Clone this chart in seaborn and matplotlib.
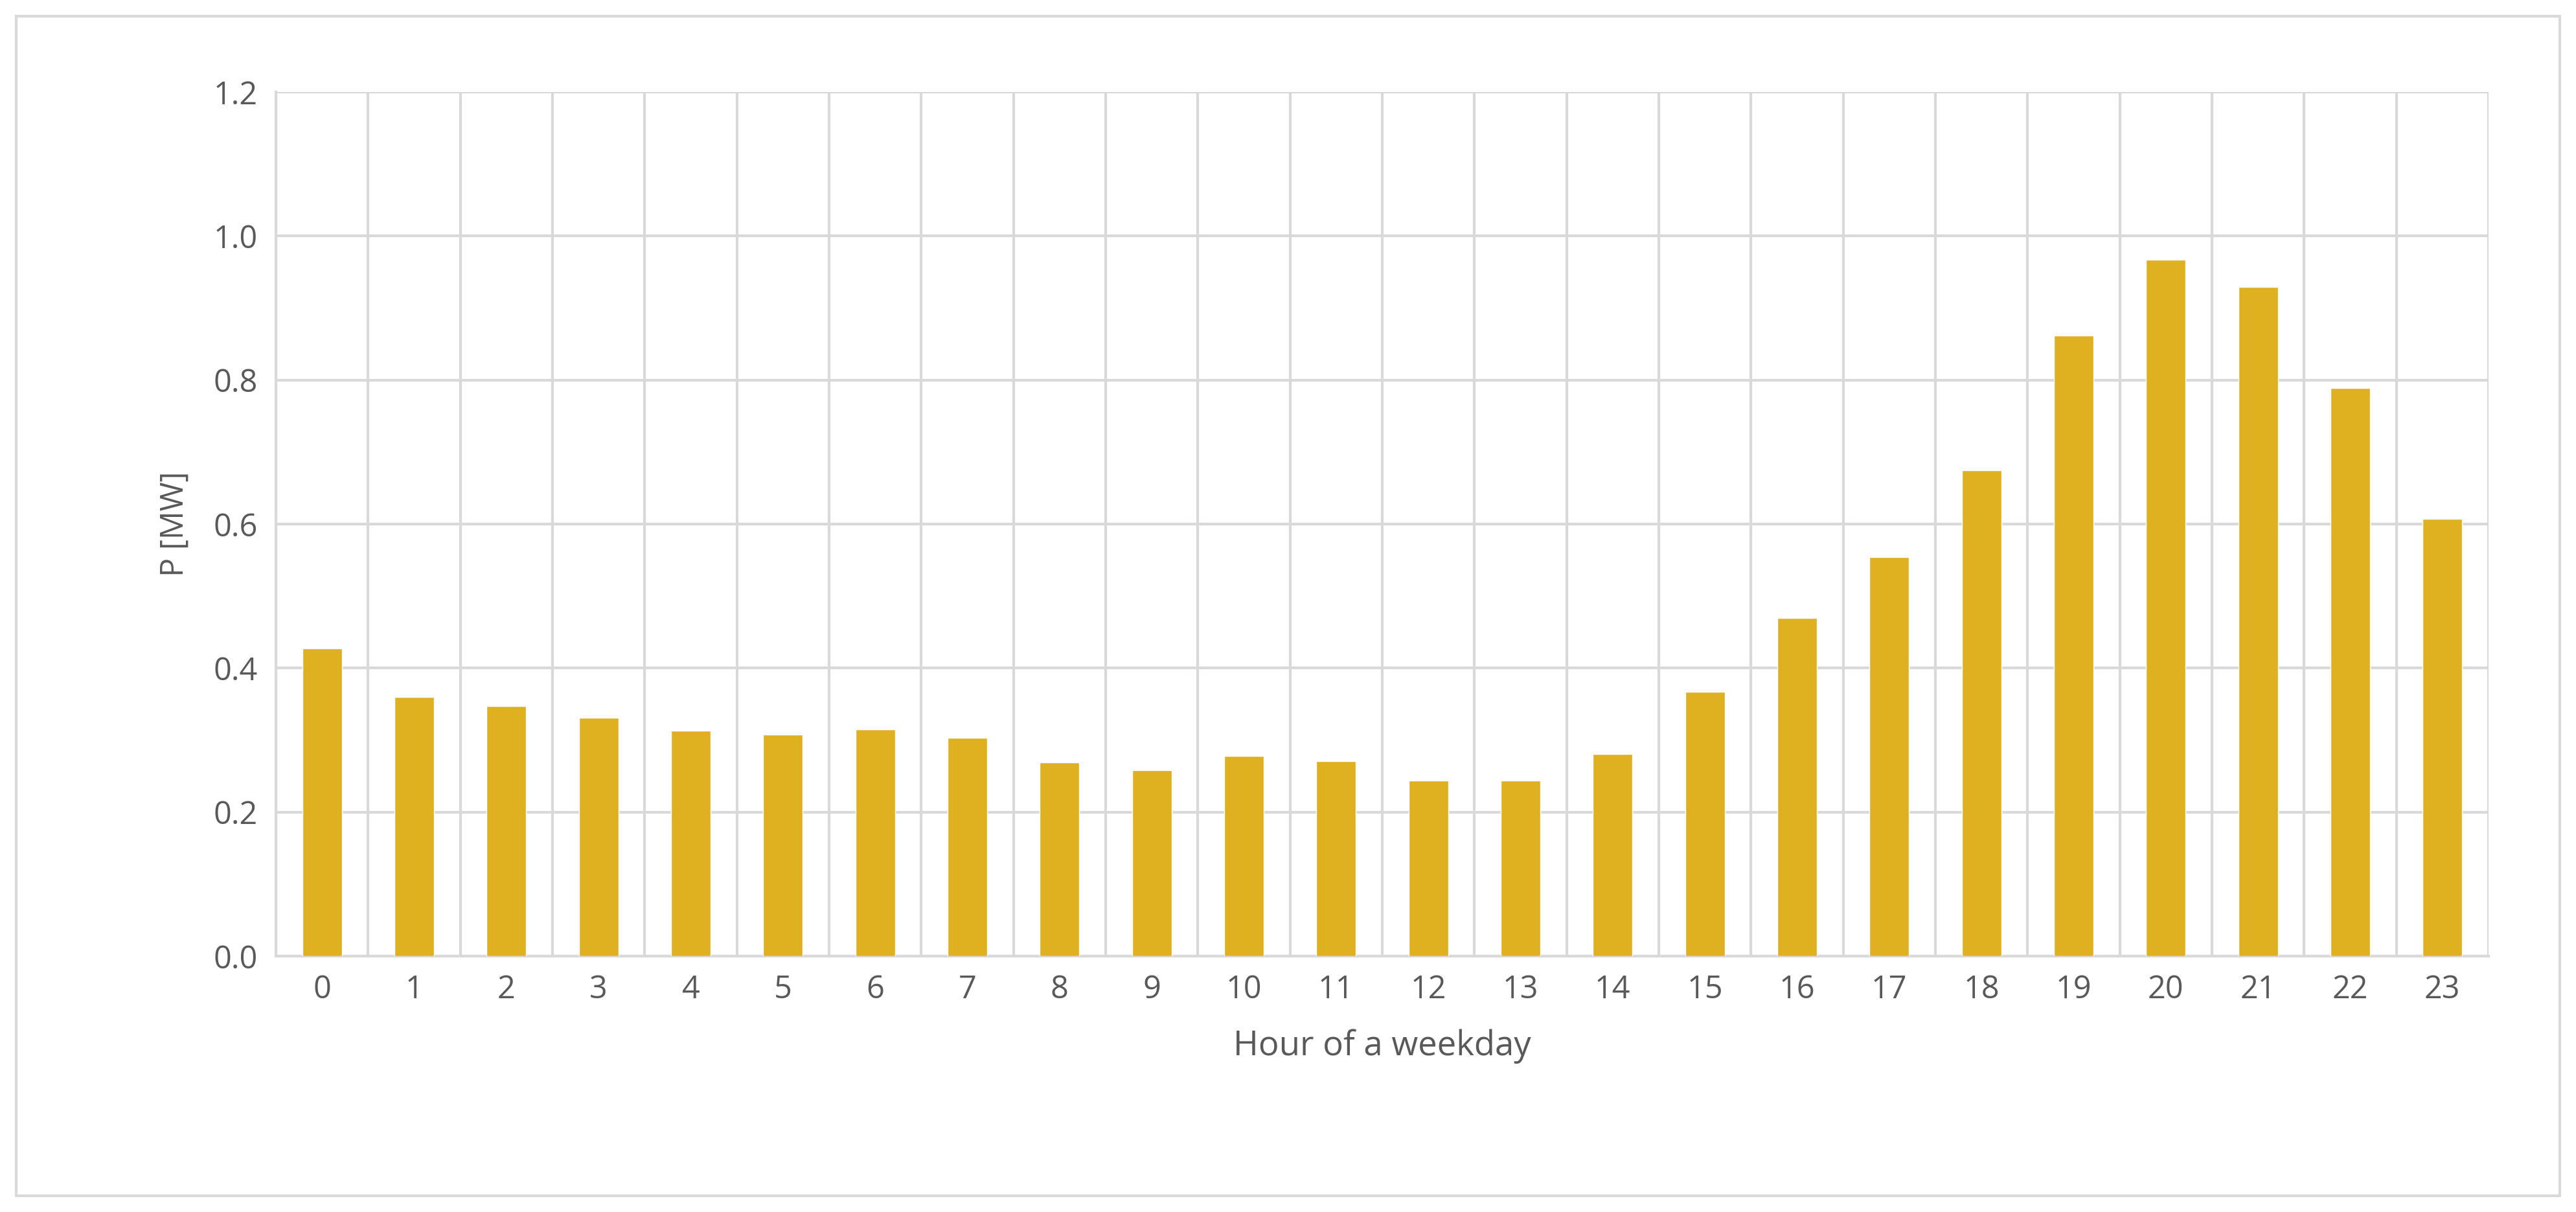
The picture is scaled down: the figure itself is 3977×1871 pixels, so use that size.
import numpy as np
import pandas as pd
import matplotlib.pyplot as plt
import seaborn as sns
from matplotlib.patches import Rectangle

# valores
hours = list(range(24))
power_mw = [0.427, 0.360, 0.347, 0.331, 0.313, 0.308, 0.315, 0.303, 0.269, 0.258,
            0.278, 0.271, 0.244, 0.244, 0.281, 0.367, 0.470, 0.554, 0.675, 0.862,
            0.967, 0.929, 0.789, 0.607]

df = pd.DataFrame({'hour': hours, 'p': power_mw})

sns.set_style('white')
plt.rcParams['font.family'] = ['Open Sans', 'DejaVu Sans']
text_col = '#595959'
grid_col = '#d9d9d9'

fig = plt.figure(figsize=(39.77, 18.71), dpi=100)
ax = fig.add_axes([426/3977, 1 - 1476/1871, (3842-426)/3977, (1476-142)/1871])

sns.barplot(data=df, x='hour', y='p', color='#FFC000', width=0.43, ax=ax, zorder=3)

ax.set_ylim(0, 1.2)
ax.set_xlim(-0.5, 23.5)
ax.set_yticks(np.arange(0, 1.21, 0.2))
ax.set_yticklabels([f'{v:.1f}' for v in np.arange(0, 1.21, 0.2)])
ax.set_xticks(range(24))
ax.set_xticks(np.arange(-0.5, 24, 1), minor=True)
ax.grid(axis='y', color=grid_col, lw=3, zorder=0)
ax.grid(axis='x', which='minor', color=grid_col, lw=3, zorder=0)
ax.tick_params(axis='x', which='major', length=0, labelsize=35, colors=text_col, pad=20)
ax.tick_params(axis='x', which='minor', length=22, width=3, color=grid_col)
ax.tick_params(axis='y', length=0, labelsize=35, colors=text_col, pad=20)

for s in ['top', 'right']:
    ax.spines[s].set_visible(False)
for s in ['left', 'bottom']:
    ax.spines[s].set_color(grid_col)
    ax.spines[s].set_linewidth(3)

ax.set_xlabel('Hour of a weekday', fontsize=38, color=text_col, labelpad=25)
ax.set_ylabel('P [MW]', fontsize=35, color=text_col, labelpad=25)

fig.add_artist(Rectangle((25/3977, 25/1871), 1 - 50/3977, 1 - 50/1871,
                         transform=fig.transFigure, fill=False, edgecolor=grid_col, lw=3))

fig.savefig('out.png', dpi=100)
